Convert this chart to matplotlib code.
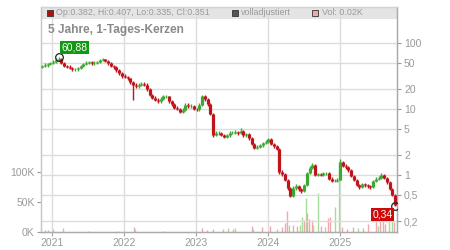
import matplotlib
matplotlib.use('Agg')
import matplotlib.pyplot as plt
import matplotlib.ticker as mticker
from matplotlib.patches import Rectangle
import numpy as np
import pandas as pd

plt.rcParams['font.family'] = ['Liberation Sans', 'DejaVu Sans']

# ---------------- data ----------------
start_date = '2020-11-11'
first_open = 44.0
closes = [44.8, 46.4, 48.0, 49.7, 52.4, 56.2, 57.2, 50.6, 45.6, 44.0,
          41.8, 39.7, 39.7, 41.1, 44.8, 48.0, 50.6, 51.5, 49.7, 50.6,
          51.5, 55.2, 57.2, 53.3, 49.7, 45.6, 43.3, 39.0, 35.1, 32.1,
          30.5, 29.0, 25.6, 23.1, 22.3, 23.5, 23.9, 23.5, 20.1, 16.3,
          14.9, 13.7, 13.2, 14.4, 15.5, 15.5, 13.0, 11.9, 10.5, 10.0,
          9.0, 9.7, 11.7, 11.1, 11.1, 10.0, 9.85, 11.5, 15.7, 14.2,
          11.9, 8.4, 4.04, 4.33, 4.33, 4.04, 3.83, 3.97, 4.33, 4.40,
          4.48, 4.33, 4.64, 3.97, 4.18, 3.64, 2.95, 2.57, 2.66, 2.85,
          3.05, 3.21, 3.51, 3.00, 2.75, 2.52, 1.11, 1.035, 0.85, 0.64,
          0.48, 0.64, 0.68, 0.61, 0.57, 0.70, 1.07, 1.28, 1.42, 1.00,
          1.02, 1.00, 1.07, 1.07, 0.885, 0.81, 0.82, 0.85, 1.58, 1.39,
          1.31, 1.18, 0.98, 0.85, 0.70, 0.66, 0.72, 0.70, 0.68, 0.65,
          0.81, 0.885, 0.90, 1.00, 0.90, 0.78, 0.62, 0.50, 0.351]
highs = [47, 49, 50, 52, 55, 59, 60.88, 59, 52, 47,
         46, 43, 42, 43, 47, 50, 53, 54, 54, 53,
         54, 58, 59, 58, 55, 51, 47, 45, 40, 36,
         33.5, 32, 30, 27, 24.5, 25, 25.5, 25.5, 24.5, 21,
         17, 15.8, 14.5, 15.3, 16.5, 16.3, 16, 13.7, 12.5, 11.1,
         10.5, 10.3, 12.3, 12.3, 11.8, 11.6, 10.5, 12.2, 16.5, 16.3,
         14.8, 12.3, 8.6, 4.6, 4.6, 4.5, 4.2, 4.2, 4.6, 4.65,
         4.75, 4.7, 5.15, 4.8, 4.4, 4.3, 3.75, 3.05, 2.85, 3.0,
         3.2, 3.4, 3.7, 3.6, 3.1, 2.85, 2.6, 1.2, 1.08, 0.88,
         0.66, 0.67, 0.73, 0.71, 0.64, 0.74, 1.12, 1.35, 1.52, 1.45,
         1.08, 1.08, 1.13, 1.13, 1.1, 0.92, 0.87, 0.9, 1.75, 1.62,
         1.45, 1.36, 1.22, 1.01, 0.88, 0.73, 0.76, 0.75, 0.73, 0.71,
         0.85, 0.93, 0.95, 1.08, 1.04, 0.92, 0.8, 0.64, 0.52]
lows = [42, 43, 44, 46, 48, 50, 54, 48, 43, 42,
        40, 38, 37.5, 38, 40, 43, 46, 48, 47, 47,
        48, 49, 53, 51, 47, 43, 41, 37, 33, 30,
        29, 27.5, 24, 13.7, 21, 21, 22, 22, 19, 15.5,
        14, 13, 12.4, 12.5, 13.6, 14.5, 12.3, 11.2, 10, 9.5,
        8.6, 8.6, 9.3, 10.5, 10.4, 9.5, 9.3, 9.4, 11, 13.4,
        11.3, 8, 3.8, 3.85, 4.1, 3.85, 3.65, 3.65, 3.8, 4.15,
        4.2, 4.1, 4.15, 3.8, 3.8, 3.45, 2.8, 2.45, 2.45, 2.55,
        2.7, 2.9, 3.1, 2.85, 2.6, 2.4, 1.05, 0.97, 0.8, 0.6,
        0.46, 0.47, 0.6, 0.58, 0.54, 0.55, 0.68, 1.02, 1.22, 0.95,
        0.95, 0.95, 0.96, 1.0, 0.84, 0.77, 0.77, 0.78, 0.83, 1.32,
        1.25, 1.12, 0.93, 0.81, 0.67, 0.62, 0.63, 0.66, 0.64, 0.62,
        0.63, 0.78, 0.85, 0.87, 0.86, 0.74, 0.6, 0.48, 0.335]

vol_dates = ['2020-11-26', '2020-12-11', '2021-01-04', '2021-02-26', '2021-07-02',
             '2021-12-02', '2022-02-22', '2022-02-25', '2022-07-22', '2023-01-31',
             '2023-02-24', '2023-03-27', '2023-05-17', '2023-06-12', '2023-07-07',
             '2023-07-17', '2023-10-11', '2023-10-16', '2023-12-01', '2024-01-11',
             '2024-02-15', '2024-03-12', '2024-03-27', '2024-04-05', '2024-04-16',
             '2024-05-06', '2024-05-27', '2024-06-11', '2024-06-21', '2024-07-01',
             '2024-07-11', '2024-07-16', '2024-07-26', '2024-08-12', '2024-08-16',
             '2024-09-10', '2024-09-25', '2024-10-16', '2024-10-31', '2024-11-11',
             '2024-12-06', '2024-12-27', '2025-01-10', '2025-02-05', '2025-03-07',
             '2025-04-01', '2025-04-25', '2025-05-22', '2025-07-01', '2025-07-11',
             '2025-07-22', '2025-08-06', '2025-08-15', '2025-09-05', '2025-09-22',
             '2025-10-01']
vol_k = [3, 3, 5, 7, 2, 2, 8, 5, 2, 7,
         3, 5, 5, 7, 5, 6, 10, 5, 8, 10,
         5, 8, 15, 35, 12, 12, 10, 12, 25, 20,
         57, 32, 22, 20, 12, 65, 10, 8, 23, 25,
         42, 117, 8, 5, 8, 7, 7, 13, 20, 10,
         33, 28, 13, 33, 37, 17]
vol_up = [0, 0, 1, 1, 1, 0, 0, 1, 0, 0,
          0, 0, 0, 1, 0, 1, 0, 1, 0, 0,
          1, 0, 0, 0, 1, 0, 0, 1, 1, 0,
          1, 0, 0, 0, 1, 1, 0, 1, 0, 0,
          1, 1, 0, 0, 0, 1, 0, 0, 0, 1,
          0, 0, 0, 1, 1, 0]

price_ticks = [100, 50, 20, 10, 5, 2, 1, 0.5, 0.2]
price_tick_labels = ['100', '50', '20', '10', '5', '2', '1', '0,5', '0,2']
vol_ticks = [0, 50, 100]
vol_tick_labels = ['0K', '50K', '100K']
year_ticks = ['2021-01-01', '2022-01-01', '2023-01-01', '2024-01-01', '2025-01-01']
year_labels = ['2021', '2022', '2023', '2024', '2025']

title = '5 Jahre, 1-Tages-Kerzen'
header_ohlc = 'Op:0.382, Hi:0.407, Lo:0.335, Cl:0.351'
header_adj = 'volladjustiert'
header_vol = 'Vol: 0.02K'

# ---------------- styling ----------------
UP = '#3da832'
DOWN = '#c0141b'
VOL_UP = '#a4dc9c'
VOL_DOWN = '#f2a6ae'
GRID = '#dcdcdc'
TXT = '#9a9a9a'

n = len(closes)
dates = pd.date_range(start_date, periods=n, freq='14D')
opens = [first_open] + closes[:-1]
cols = [UP if c >= o else DOWN for o, c in zip(opens, closes)]

fig = plt.figure(figsize=(4.5, 2.5), dpi=100)
ax_v = fig.add_axes([41 / 450, 18 / 250, 356 / 450, 225 / 250])
ax_p = ax_v.twinx()

xmin = dates[0] - pd.Timedelta(days=5)
xmax = dates[-1] + pd.Timedelta(days=9)
ax_v.set_xlim(xmin, xmax)

# header band (under grid)
ax_v.add_patch(Rectangle((0, 1 - 12 / 225), 1, 12 / 225, transform=ax_v.transAxes,
                         facecolor='#e4e4e4', edgecolor='none', zorder=0.1))

# volume
vd = pd.to_datetime(vol_dates)
vcols = [VOL_UP if u else VOL_DOWN for u in vol_up]
ax_v.vlines(vd, 0, vol_k, colors=vcols, lw=1.0, zorder=1)
ax_v.set_ylim(0, 375)
ax_v.set_yticks(vol_ticks)
ax_v.set_yticklabels(vol_tick_labels)
ax_v.set_xticks(pd.to_datetime(year_ticks))
ax_v.set_xticklabels(year_labels)
ax_v.grid(True, axis='x', color=GRID, lw=1.0)
ax_v.set_axisbelow(True)
ax_v.tick_params(axis='y', direction='out', length=3, width=0.8, color='#999999',
                 labelcolor=TXT, labelsize=7.5, pad=1.5)
ax_v.tick_params(axis='x', direction='out', length=3, width=0.8, color='#aaaaaa',
                 labelcolor=TXT, labelsize=7.5, pad=1.5)

# price
ax_p.set_yscale('log')
ax_p.set_ylim(0.1369, 351.3)
ax_p.yaxis.set_major_locator(mticker.FixedLocator(price_ticks))
ax_p.yaxis.set_major_formatter(mticker.FixedFormatter(price_tick_labels))
ax_p.yaxis.set_minor_locator(mticker.NullLocator())
ax_p.grid(True, axis='y', color=GRID, lw=1.0, zorder=0)
ax_p.tick_params(axis='y', direction='out', length=3, width=0.8, color='#999999',
                 labelcolor=TXT, labelsize=7.5, pad=2)

ax_p.vlines(dates, lows, highs, colors=cols, lw=1.0, zorder=3)
ax_p.vlines(dates, opens, closes, colors=cols, lw=2.3, zorder=3)

# max / min markers
imax = int(np.argmax(highs))
imin = int(np.argmin(lows))
ax_p.plot(dates[imax], highs[imax], 'o', mfc='none', mec='#222222', ms=5.5, mew=0.9, zorder=5)
ax_p.plot(dates[imin], lows[imin], 'o', mfc='none', mec='#222222', ms=5.5, mew=0.9, zorder=5)
ax_p.annotate(f'{highs[imax]:.2f}'.replace('.', ','), (dates[imax], highs[imax]),
              xytext=(16, 9.5), textcoords='offset pixels', ha='center', va='center',
              color='white', fontsize=7.5,
              bbox=dict(boxstyle='square,pad=0.15', fc='#119a11', ec='none'), zorder=6)
ax_p.annotate(f'{lows[imin]:.2f}'.replace('.', ','), (dates[imin], lows[imin]),
              xytext=(-13, -8), textcoords='offset pixels', ha='center', va='center',
              color='white', fontsize=7.5,
              bbox=dict(boxstyle='square,pad=0.15', fc='#cc0a0a', ec='none'), zorder=6)

# header texts
hy = 1 - 6 / 225
ax_p.plot([8.5 / 356], [hy], marker='s', ms=4.2, mfc='#b01010', mec='#333333', mew=0.6,
          transform=ax_p.transAxes, clip_on=False, zorder=7)
ax_p.text(15 / 356, hy, header_ohlc, transform=ax_p.transAxes, fontsize=6.4, color=TXT,
          va='center', ha='left', zorder=7)
ax_p.plot([193.5 / 356], [hy], marker='s', ms=4.2, mfc='#555555', mec='#333333', mew=0.6,
          transform=ax_p.transAxes, clip_on=False, zorder=7)
ax_p.text(200 / 356, hy, header_adj, transform=ax_p.transAxes, fontsize=6.4, color=TXT,
          va='center', ha='left', zorder=7)
ax_p.plot([274 / 356], [hy], marker='s', ms=4.2, mfc='#f2a6ae', mec='#333333', mew=0.6,
          transform=ax_p.transAxes, clip_on=False, zorder=7)
ax_p.text(281 / 356, hy, header_vol, transform=ax_p.transAxes, fontsize=6.4, color=TXT,
          va='center', ha='left', zorder=7)
ax_p.text(7 / 356, 1 - 23 / 225, title, transform=ax_p.transAxes, fontsize=8.6,
          fontweight='bold', color='#8a8a8a', va='center', ha='left', zorder=7)

for a in (ax_v, ax_p):
    a.spines['left'].set_color('#c8c8c8')
    a.spines['right'].set_color('#aaaaaa')
    a.spines['bottom'].set_color('#aaaaaa')
    a.spines['top'].set_color('#d4d4d4')
    for s in a.spines.values():
        s.set_linewidth(0.9)

fig.savefig('out.png', dpi=100)
